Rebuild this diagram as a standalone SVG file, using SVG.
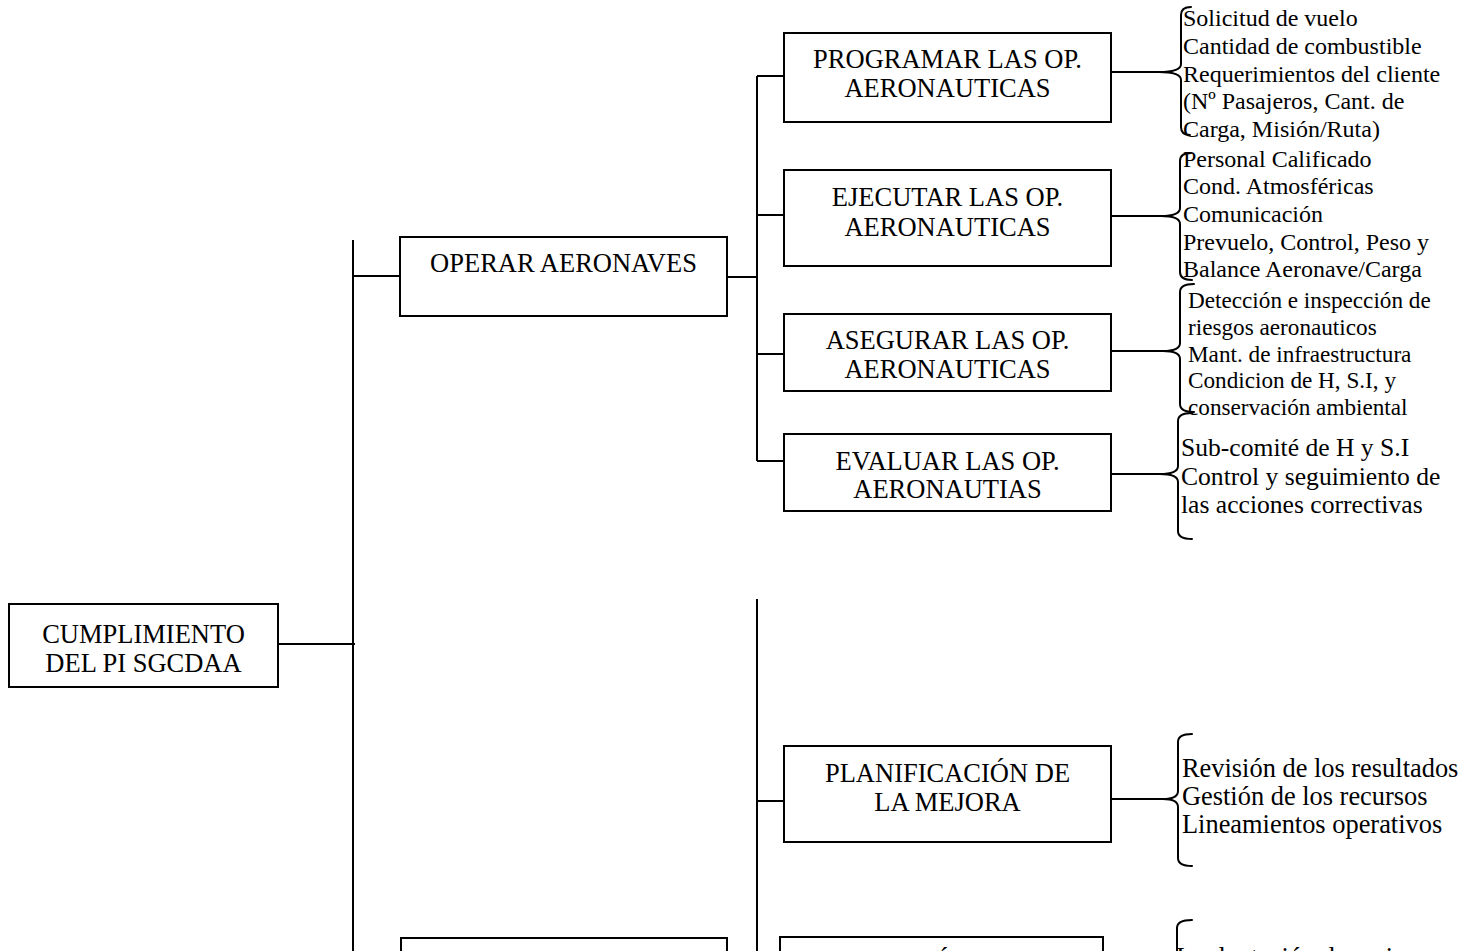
<svg xmlns="http://www.w3.org/2000/svg" width="1478" height="951" viewBox="0 0 1478 951">
  <style>
    .box { fill: #fff; stroke: #000; stroke-width: 2; }
    .ln { fill: none; stroke: #000; stroke-width: 2; }
    .br { fill: none; stroke: #000; stroke-width: 2; stroke-linecap: round; }
    .bt { font-family: "Liberation Serif", "Times New Roman", serif; font-size: 26.5px; fill: #000; text-anchor: middle; }
    .lt { font-family: "Liberation Serif", "Times New Roman", serif; fill: #000; }
  </style>
  <rect width="1478" height="951" fill="#fff"/>

  <!-- connectors -->
  <g id="connectors" class="ln">
    <path d="M278 644 H355"/>
    <path d="M353 240 V951"/>
    <path d="M353 276 H401"/>
    <path d="M727 277 H757"/>
    <path d="M757 76 V461"/>
    <path d="M757 76 H784 M757 215 H784 M757 354 H784 M757 461 H784"/>
    <path d="M757 599 V951"/>
    <path d="M757 801 H784"/>
    <path d="M1111 72 H1159 M1111 216 H1161 M1111 351 H1163 M1111 474 H1160 M1111 799 H1163"/>
  </g>

  <!-- root -->
  <g id="cumplimiento">
    <rect class="box" x="9" y="604" width="269" height="83"/>
    <text class="bt" x="143.5" y="643" font-size="26">CUMPLIMIENTO</text>
    <text class="bt" x="143.5" y="672" font-size="26">DEL PI SGCDAA</text>
  </g>

  <g id="operar">
    <rect class="box" x="400" y="237" width="327" height="79"/>
    <text class="bt" x="563.5" y="272">OPERAR AERONAVES</text>
  </g>

  <g id="programar">
    <rect class="box" x="784" y="33" width="327" height="89"/>
    <text class="bt" x="947.5" y="68">PROGRAMAR LAS OP.</text>
    <text class="bt" x="947.5" y="97">AERONAUTICAS</text>
  </g>

  <g id="ejecutar">
    <rect class="box" x="784" y="170" width="327" height="96"/>
    <text class="bt" x="947.5" y="206">EJECUTAR LAS OP.</text>
    <text class="bt" x="947.5" y="236">AERONAUTICAS</text>
  </g>

  <g id="asegurar">
    <rect class="box" x="784" y="314" width="327" height="77"/>
    <text class="bt" x="947.5" y="349">ASEGURAR LAS OP.</text>
    <text class="bt" x="947.5" y="378">AERONAUTICAS</text>
  </g>

  <g id="evaluar">
    <rect class="box" x="784" y="434" width="327" height="77"/>
    <text class="bt" x="947.5" y="470">EVALUAR LAS OP.</text>
    <text class="bt" x="947.5" y="498">AERONAUTIAS</text>
  </g>

  <g id="planificacion">
    <rect class="box" x="784" y="746" width="327" height="96"/>
    <text class="bt" x="947.5" y="782">PLANIFICACIÓN DE</text>
    <text class="bt" x="947.5" y="811">LA MEJORA</text>
  </g>

  <!-- boxes running off the lower edge -->
  <g id="mejorar">
    <rect class="box" x="401" y="938" width="326" height="90"/>
  </g>

  <g id="ejecucion">
    <rect class="box" x="780" y="937" width="323" height="90"/>
    <text class="bt" x="941.5" y="971">EJECUCIÓN DE LA</text>
  </g>

  <!-- detail lists with braces -->
  <g id="lista-programar">
    <path class="br" d="M1191 7 Q1181 7 1181 15 V64 Q1181 72 1159 72 Q1181 72 1181 80 V127 Q1181 135 1190 135"/>
    <text class="lt" font-size="24" x="1183" y="26">Solicitud de vuelo</text>
    <text class="lt" font-size="24" x="1183" y="54">Cantidad de combustible</text>
    <text class="lt" font-size="24" x="1183" y="82">Requerimientos del cliente</text>
    <text class="lt" font-size="24" x="1183" y="109">(Nº Pasajeros, Cant. de</text>
    <text class="lt" font-size="24" x="1183" y="137">Carga, Misión/Ruta)</text>
  </g>

  <g id="lista-ejecutar">
    <path class="br" d="M1191 153 Q1180 153 1180 161 V208 Q1180 216 1161 216 Q1180 216 1180 224 V272 Q1180 280 1192 280"/>
    <text class="lt" font-size="24" x="1183" y="167">Personal Calificado</text>
    <text class="lt" font-size="24" x="1183" y="194">Cond. Atmosféricas</text>
    <text class="lt" font-size="24" x="1183" y="222">Comunicación</text>
    <text class="lt" font-size="24" x="1183" y="250">Prevuelo, Control, Peso y</text>
    <text class="lt" font-size="24" x="1183" y="277">Balance Aeronave/Carga</text>
  </g>

  <g id="lista-asegurar">
    <path class="br" d="M1194 284 Q1180 284 1180 292 V343 Q1180 351 1163 351 Q1180 351 1180 359 V404 Q1180 412 1194 412"/>
    <text class="lt" font-size="23.2" x="1188" y="308">Detección e inspección de</text>
    <text class="lt" font-size="23.2" x="1188" y="335">riesgos aeronauticos</text>
    <text class="lt" font-size="23.2" x="1188" y="362">Mant. de infraestructura</text>
    <text class="lt" font-size="23.2" x="1188" y="388">Condicion de H, S.I, y</text>
    <text class="lt" font-size="23.2" x="1188" y="415">conservación ambiental</text>
  </g>

  <g id="lista-evaluar">
    <path class="br" d="M1192 413 Q1178 413 1178 421 V466 Q1178 474 1160 474 Q1178 474 1178 482 V531 Q1178 539 1192 539"/>
    <text class="lt" font-size="25.6" x="1181" y="456">Sub-comité de H y S.I</text>
    <text class="lt" font-size="25.6" x="1181" y="485">Control y seguimiento de</text>
    <text class="lt" font-size="25.6" x="1181" y="513">las acciones correctivas</text>
  </g>

  <g id="lista-planificacion">
    <path class="br" d="M1192 734 Q1178 734 1178 742 V791 Q1178 799 1163 799 Q1178 799 1178 807 V858 Q1178 866 1192 866"/>
    <text class="lt" font-size="26.4" x="1182" y="777">Revisión de los resultados</text>
    <text class="lt" font-size="26.4" x="1182" y="805">Gestión de los recursos</text>
    <text class="lt" font-size="26.4" x="1182" y="833">Lineamientos operativos</text>
  </g>

  <g id="lista-ejecucion">
    <path class="br" d="M1192 920 Q1177 920 1177 928 V980 Q1177 988 1160 988 Q1177 988 1177 996 V1050"/>
    <text class="lt" font-size="26.4" x="1176" y="966">Implantación de mejoras</text>
  </g>
</svg>
